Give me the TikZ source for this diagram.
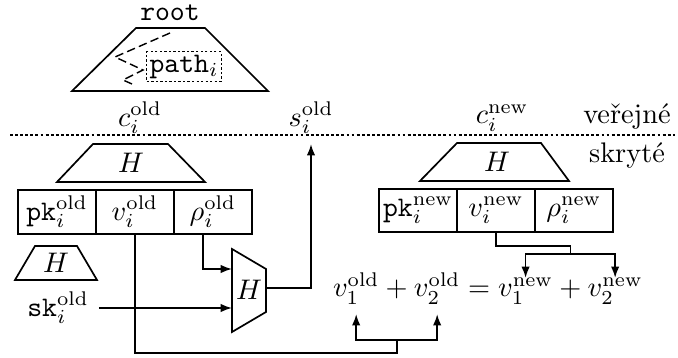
\documentclass[tikz,border=0pt]{standalone}
\usepackage{fontspec}
\usetikzlibrary{arrows.meta,positioning,calc}

\begin{document}
\begin{tikzpicture}[
    x=0.353pt, y=-0.353pt,
    line width=0.6pt,
    cell/.style={draw, minimum width=27.5pt, minimum height=15.4pt, inner sep=0pt, outer sep=0pt},
    term/.style={inner sep=0pt, outer sep=0pt},
    arr/.style={-{Latex[length=4pt, width=3pt]}},
    zigzag/.style={line width=0.5pt, dash pattern=on 3pt off 1.5pt},
    sepline/.style={line width=0.4pt, dash pattern=on 1pt off 0.8pt}
]
    \useasboundingbox (0,0) rectangle (678,358);

    % Merkle strom
    \node (root) at (170,13) {\texttt{root}};
    \draw (136,28) -- (205,28) -- (268,91) -- (72,91) -- cycle;
    \node[draw, line width=0.4pt, dash pattern=on 0.8pt off 0.8pt, inner sep=1pt] (path) at (184,66.5) {\texttt{path}$_i$};
    \draw[zigzag] (170,33) -- (115,57) -- (143,70) -- (123,80) -- (132,84);

    % verejna cast
    \node (cold) at (140,118) {$c_i^{\mathrm{old}}$};
    \node (sold) at (311,118) {$s_i^{\mathrm{old}}$};
    \node (cnew) at (502,118) {$c_i^{\mathrm{new}}$};
    \node (public) at (627,117) {veřejné};
    \node (hidden) at (627,156) {skryté};
    \draw[sepline] (10,135) -- (675,135);

    % stara mince
    \node (hold) at (131,163) {$H$};
    \draw (93,144) -- (168,144) -- (205,182) -- (57,182) -- cycle;
    \node[cell] (pko) at (57,212) {$\mathtt{pk}_i^{\mathrm{old}}$};
    \node[cell, right=0pt of pko] (vo) {$v_i^{\mathrm{old}}$};
    \node[cell, right=0pt of vo] (rhoo) {$\rho_i^{\mathrm{old}}$};

    \node (hsk) at (56,263) {$H$};
    \draw (35,246) -- (77,246) -- (97,280) -- (15,280) -- cycle;
    \node (sk) at (58,308) {$\mathtt{sk}_i^{\mathrm{old}}$};

    % H pro serial number
    \node (hmix) at (249,290) {$H$};
    \draw (232,249) -- (266,269) -- (266,312) -- (232,332) -- cycle;
    \coordinate (mixin) at (232,269);
    \coordinate (mixout) at (266,288);

    % nova mince
    \node (hnew) at (497,162) {$H$};
    \draw (457,143) -- (541,143) -- (569,181) -- (420,181) -- cycle;
    \node[cell] (pkn) at (418,210.5) {$\mathtt{pk}_i^{\mathrm{new}}$};
    \node[cell, right=0pt of pkn] (vn) {$v_i^{\mathrm{new}}$};
    \node[cell, right=0pt of vn] (rhon) {$\rho_i^{\mathrm{new}}$};

    % rovnost hodnot
    \node[term, anchor=base west] (v1o) at (333,297) {$v_1^{\mathrm{old}}$};
    \node[term, base right=0pt of v1o] (plo) {${}+{}$};
    \node[term, base right=0pt of plo] (v2o) {$v_2^{\mathrm{old}}$};
    \node[term, base right=0pt of v2o] (eq) {${}={}$};
    \node[term, base right=0pt of eq] (v1n) {$v_1^{\mathrm{new}}$};
    \node[term, base right=0pt of v1n] (pln) {${}+{}$};
    \node[term, base right=0pt of pln] (v2n) {$v_2^{\mathrm{new}}$};

    \coordinate (oldsplit) at ($(v1o.south)!0.5!(v2o.south)+(0,36)$);
    \coordinate (newsplit) at ($(v1n.north)!0.5!(v2n.north)+(0,-24)$);

    % spoje
    \draw[arr] (sk.east) -- (sk.east -| mixin);
    \draw[arr] ([xshift=-3.5pt]rhoo.south) |- (mixin);
    \draw[arr] (mixout) -| (sold.south);
    \draw (vo.south) -- ++(0,119) -| (oldsplit);
    \draw[arr, shorten >=3.5pt] (oldsplit) -| (v1o.south);
    \draw[arr, shorten >=3.5pt] (oldsplit) -| (v2o.south);
    \draw (vn.south) -- ++(0,14) -| (newsplit);
    \draw[arr] (newsplit) -| (v1n.north);
    \draw[arr] (newsplit) -| (v2n.north);

\end{tikzpicture}
\end{document}
